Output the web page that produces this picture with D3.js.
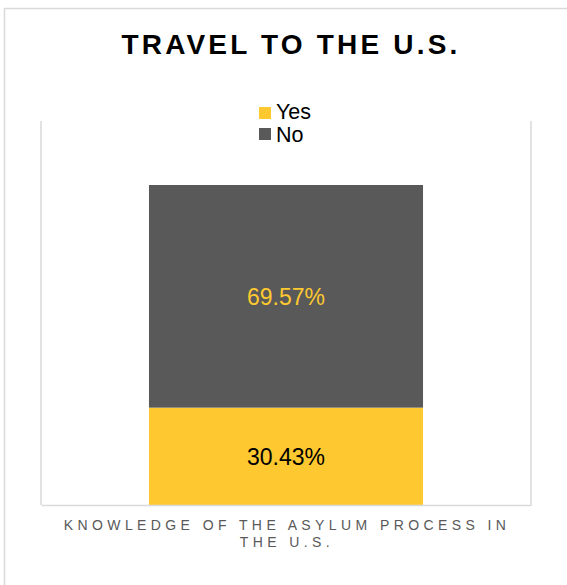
<!DOCTYPE html>
<html>
<head>
<meta charset="utf-8">
<script src="https://cdn.jsdelivr.net/npm/d3@7"></script>
<style>
  html, body { margin: 0; padding: 0; background: #ffffff; }
  svg { display: block; font-family: Arial, "Liberation Sans", sans-serif; }
</style>
</head>
<body>
<svg id="chart" width="567" height="585"></svg>
<script>
// Data
const categories = ["KNOWLEDGE OF THE ASYLUM PROCESS IN THE U.S."];
const categoryLines = [["KNOWLEDGE OF THE ASYLUM PROCESS IN", "THE U.S."]];
const seriesNames = ["Yes", "No"];
const yesValues = [0.3043];
const noValues = [0.6957];
const seriesColors = ["#fdc830", "#595959"];
const labelColors = ["#000000", "#fdc830"];

const svg = d3.select("#chart");
const W = 567, H = 585;

// Chart frame
svg.append("rect")
  .attr("x", 4.5).attr("y", 8.5)
  .attr("width", W + 10).attr("height", H + 10)
  .attr("fill", "#ffffff")
  .attr("stroke", "#d9d9d9").attr("stroke-width", 1.5);

// Title
svg.append("text")
  .attr("x", 291).attr("y", 54)
  .attr("text-anchor", "middle")
  .attr("font-size", 28).attr("font-weight", "bold")
  .attr("letter-spacing", 3.2)
  .attr("fill", "#000000")
  .text("TRAVEL TO THE U.S.");

// Plot area
const plot = { left: 41, right: 531, top: 121, bottom: 505 };

const x = d3.scaleBand()
  .domain(categories)
  .range([plot.left, plot.right])
  .paddingInner(0)
  .paddingOuter(0.394);

const y = d3.scaleLinear()
  .domain([0, 1.2])
  .range([plot.bottom, plot.top]);

// Stack the series
const rows = categories.map((c, i) => ({ category: c, Yes: yesValues[i], No: noValues[i] }));
const stacked = d3.stack().keys(seriesNames)(rows);

// Plot area side lines
const lineColor = "#d9d9d9";
svg.append("line")
  .attr("x1", plot.left).attr("x2", plot.left)
  .attr("y1", plot.top).attr("y2", plot.bottom)
  .attr("stroke", lineColor).attr("stroke-width", 1.5);
svg.append("line")
  .attr("x1", plot.right).attr("x2", plot.right)
  .attr("y1", plot.top).attr("y2", plot.bottom)
  .attr("stroke", lineColor).attr("stroke-width", 1.5);

// Bars
const layers = svg.append("g").selectAll("g")
  .data(stacked)
  .join("g")
  .attr("fill", (d, i) => seriesColors[i]);

layers.selectAll("rect")
  .data(d => d)
  .join("rect")
  .attr("x", d => x(d.data.category))
  .attr("width", x.bandwidth())
  .attr("y", d => y(d[1]))
  .attr("height", d => y(d[0]) - y(d[1]));

// Data labels
stacked.forEach((layer, si) => {
  svg.append("g").selectAll("text")
    .data(layer)
    .join("text")
    .attr("x", d => x(d.data.category) + x.bandwidth() / 2)
    .attr("y", d => (y(d[0]) + y(d[1])) / 2 + 1)
    .attr("dy", "0.35em")
    .attr("text-anchor", "middle")
    .attr("font-size", 23)
    .attr("fill", labelColors[si])
    .text(d => (d.data[layer.key] * 100).toFixed(2) + "%");
});

// Category axis
const xAxis = svg.append("g")
  .attr("transform", `translate(0,${plot.bottom})`)
  .call(d3.axisBottom(x).tickSize(0).tickFormat(""));
xAxis.select(".domain").attr("stroke", lineColor).attr("stroke-width", 1.5);

categories.forEach((c, i) => {
  const cx = x(c) + x.bandwidth() / 2;
  svg.append("text")
    .attr("x", cx + 1)
    .attr("y", 530)
    .attr("text-anchor", "middle")
    .attr("font-size", 14)
    .attr("letter-spacing", 4.4)
    .attr("fill", "#595959")
    .selectAll("tspan")
    .data(categoryLines[i])
    .join("tspan")
    .attr("x", cx + 1)
    .attr("dy", (d, j) => j === 0 ? 0 : 17)
    .text(d => d);
});

// Legend
const legend = svg.append("g");
seriesNames.forEach((name, i) => {
  legend.append("rect")
    .attr("x", 259).attr("y", 107 + i * 21)
    .attr("width", 12).attr("height", 12)
    .attr("fill", seriesColors[i]);
  legend.append("text")
    .attr("x", 276).attr("y", 119 + i * 23)
    .attr("font-size", 21.5)
    .attr("fill", "#000000")
    .text(name);
});
</script>
</body>
</html>
